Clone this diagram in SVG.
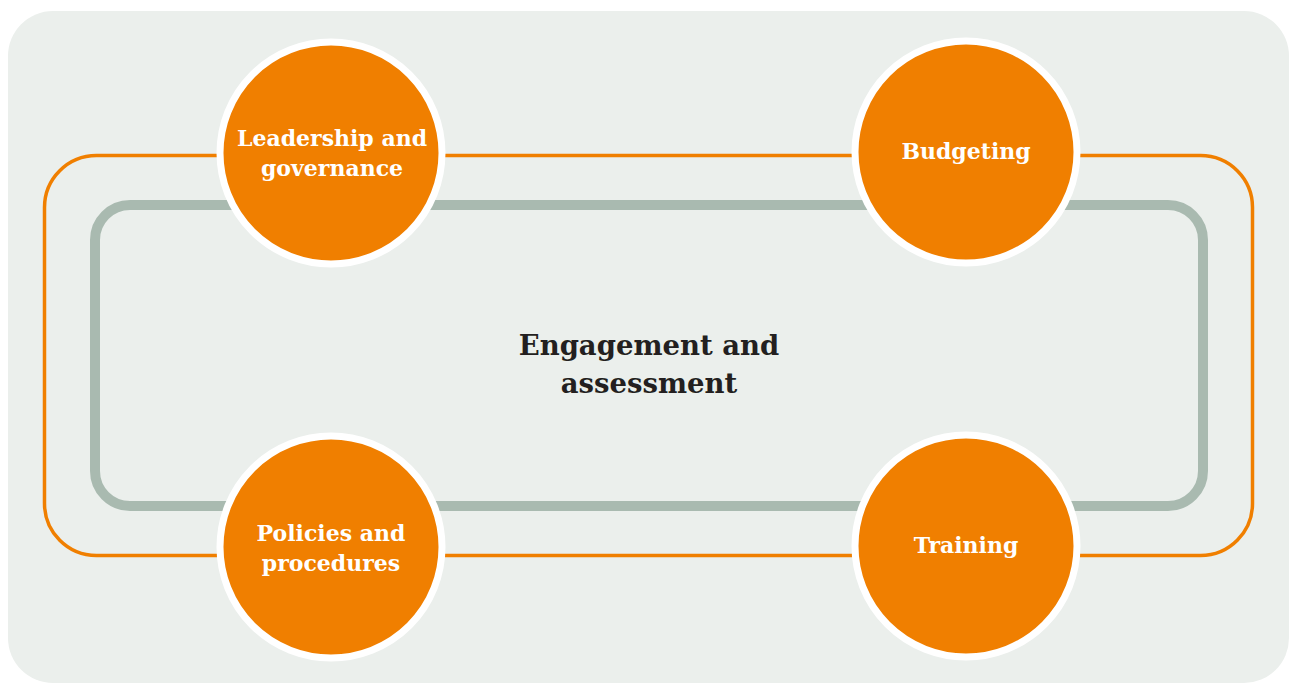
<svg xmlns="http://www.w3.org/2000/svg" width="1295" height="684" viewBox="0 0 1295 684">
<style>
.node-ring{fill:#f07f00;stroke:#ffffff;stroke-width:7}
.node-label{font-family:"DejaVu Serif","Liberation Serif",serif;font-weight:bold;font-size:22px;fill:#ffffff;text-anchor:middle}
.center-label{font-family:"DejaVu Serif","Liberation Serif",serif;font-weight:bold;font-size:27.5px;fill:#231f20;text-anchor:middle}
</style>
<rect x="0" y="0" width="1295" height="684" fill="#ffffff"/>
<rect x="8" y="11" width="1281" height="672" rx="45" fill="#ebefec"/>
<g id="connectors">
<rect x="44.5" y="155.5" width="1208" height="400" rx="52" fill="none" stroke="#f07f00" stroke-width="3.5"/>
<rect x="95" y="205" width="1108" height="301" rx="35" fill="none" stroke="#a9bab0" stroke-width="10"/>
</g>
<g id="center">
<text class="center-label" x="649" y="355">Engagement and</text>
<text class="center-label" x="649" y="393">assessment</text>
</g>
<g id="leadership">
<circle class="node-ring" cx="331" cy="153" r="111"/>
<text class="node-label" x="332" y="146">Leadership and</text>
<text class="node-label" x="332" y="176">governance</text>
</g>
<g id="budgeting">
<circle class="node-ring" cx="966" cy="152" r="111"/>
<text class="node-label" x="966" y="159">Budgeting</text>
</g>
<g id="policies">
<circle class="node-ring" cx="331" cy="547" r="111"/>
<text class="node-label" x="331" y="541">Policies and</text>
<text class="node-label" x="331" y="571">procedures</text>
</g>
<g id="training">
<circle class="node-ring" cx="966" cy="546" r="111"/>
<text class="node-label" x="966" y="553">Training</text>
</g>
</svg>
